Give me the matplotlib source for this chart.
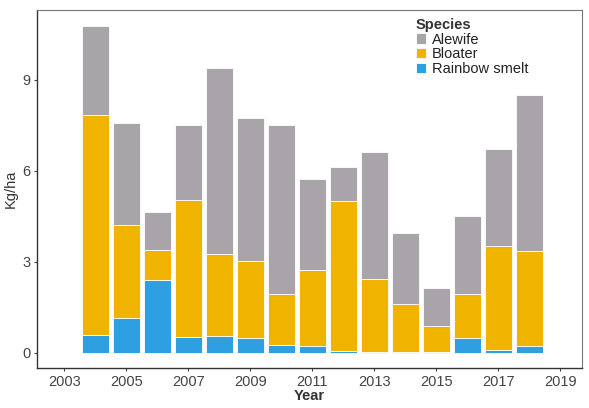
import numpy as np
import matplotlib
matplotlib.use("Agg")
import matplotlib.pyplot as plt

plt.rcParams['font.family'] = ['Liberation Sans', 'DejaVu Sans']

# Biomass (kg/ha) by year and species
years = [2004, 2005, 2006, 2007, 2008, 2009, 2010, 2011,
         2012, 2013, 2014, 2015, 2016, 2017, 2018]
smelt = [0.58, 1.16, 2.40, 0.52, 0.55, 0.49, 0.26, 0.23,
         0.05, 0.03, 0.02, 0.02, 0.49, 0.10, 0.23]
bloater = [7.25, 3.04, 1.00, 4.53, 2.69, 2.55, 1.68, 2.49,
           4.95, 2.40, 1.58, 0.85, 1.45, 3.43, 3.14]
alewife = [2.95, 3.37, 1.23, 2.45, 6.16, 4.69, 5.56, 3.01,
           1.12, 4.20, 2.35, 1.27, 2.56, 3.20, 5.13]

species = ["Rainbow smelt", "Bloater", "Alewife"]
colors = {"Rainbow smelt": "#2E9FE0", "Bloater": "#F0B400", "Alewife": "#A9A4A9"}

xticks = list(range(2003, 2020, 2))
yticks = [0, 3, 6, 9]

fig = plt.figure(figsize=(5.89, 4.08), dpi=100)
ax = fig.add_axes([0.062, 0.097, 0.926, 0.878])

bottom = np.zeros(len(years))
handles = {}
for name, vals in zip(species, [smelt, bloater, alewife]):
    vals = np.array(vals)
    bars = ax.bar(years, vals, bottom=bottom, width=0.88, color=colors[name],
                  edgecolor="white", linewidth=0.6, label=name)
    handles[name] = bars
    bottom += vals

ax.set_xlim(2002.1, 2019.7)
ax.set_ylim(-0.52, 11.3)
ax.set_xticks(xticks)
ax.set_yticks(yticks)
ax.tick_params(labelsize=10.5, colors="#444444", length=2.5, width=0.8, pad=2)
for side in ["left", "bottom"]:
    ax.spines[side].set_color("#333333")
    ax.spines[side].set_linewidth(1.0)
for side in ["top", "right"]:
    ax.spines[side].set_color("#777777")
    ax.spines[side].set_linewidth(0.8)

ax.set_xlabel("Year", fontsize=10.5, color="#333333", fontweight="bold", labelpad=0.5)
ax.set_ylabel("Kg/ha", fontsize=10.5, color="#333333", labelpad=3)

order = ["Alewife", "Bloater", "Rainbow smelt"]
leg = ax.legend([handles[n] for n in order], order, title="Species",
                loc="upper left", bbox_to_anchor=(0.685, 0.995),
                frameon=False, fontsize=10.5, title_fontsize=10.5,
                handlelength=0.7, handleheight=0.7, handletextpad=0.4,
                labelspacing=0.05, borderaxespad=0, alignment="left")
leg.get_title().set_fontweight("bold")
leg.get_title().set_color("#333333")
for t in leg.get_texts():
    t.set_color("#222222")

fig.savefig("out.png", dpi=100)
